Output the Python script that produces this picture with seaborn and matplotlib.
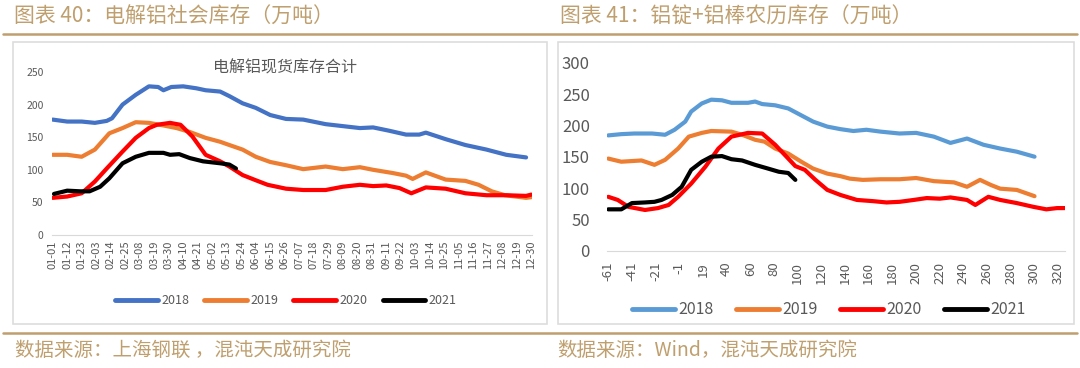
import matplotlib
matplotlib.use('Agg')
import matplotlib.pyplot as plt
import numpy as np
import pandas as pd
import seaborn as sns
from matplotlib.lines import Line2D
from matplotlib.patches import Rectangle

# ---- left chart: day of year (0 = 01-01), inventory in 10k t
years = ['2018', '2019', '2020', '2021']

l18_day = [0, 11, 22, 32, 41, 45, 53, 63, 73, 80, 84, 90, 99, 109, 116, 127, 134, 144, 154, 165,
           177, 190, 207, 220, 233, 243, 255, 268, 278, 283, 298, 313, 329, 344, 359]
l18_val = [177, 174, 174, 172, 175, 179, 200, 215, 228, 227, 222, 227, 228, 225, 222, 220, 213, 202, 195, 184,
           178, 177, 170, 167, 164, 165, 160, 154, 154, 157, 147, 138, 131, 123, 119]

l19_day = [0, 11, 22, 32, 43, 53, 63, 73, 84, 94, 104, 116, 127, 134, 144, 154, 165, 177, 190, 207,
           220, 233, 243, 258, 268, 273, 283, 298, 313, 323, 333, 343, 359, 363]
l19_val = [123, 123, 120, 131, 156, 164, 173, 172, 168, 164, 158, 149, 143, 138, 131, 120, 112, 107, 101, 105,
           101, 104, 100, 95, 91, 86, 96, 85, 83, 77, 67, 61, 57, 58]

l20_day = [0, 11, 22, 32, 41, 53, 63, 73, 79, 89, 97, 106, 116, 127, 134, 144, 154, 163, 177, 190,
           207, 220, 233, 243, 253, 263, 272, 283, 298, 313, 329, 344, 359, 363]
l20_val = [57, 59, 64, 82, 102, 128, 149, 164, 169, 172, 169, 151, 123, 113, 105, 92, 84, 77, 71, 69,
           69, 74, 77, 75, 76, 72, 64, 73, 71, 64, 61, 61, 60, 62]

l21_day = [1, 11, 21, 28, 36, 43, 53, 63, 73, 84, 89, 96, 104, 114, 127, 134, 139]
l21_val = [63, 68, 67, 67, 74, 87, 110, 120, 126, 126, 123, 124, 118, 113, 110, 108, 102]

l_ticks = ['01-01', '01-12', '01-23', '02-03', '02-14', '02-25', '03-08', '03-19', '03-30', '04-10',
           '04-21', '05-02', '05-13', '05-24', '06-04', '06-15', '06-26', '07-07', '07-18', '07-29',
           '08-09', '08-20', '08-31', '09-11', '09-22', '10-03', '10-14', '10-25', '11-05', '11-16',
           '11-27', '12-08', '12-19', '12-30']
l_colors = ['#4472C4', '#ED7D31', '#FF0000', '#000000']

# ---- right chart: position on lunar-calendar axis, inventory in 10k t
r18_pos = [0, 11, 22, 37, 48, 56, 65, 70, 79, 87, 96, 104, 118, 124, 130, 141, 152, 163, 173, 185,
           196, 207, 218, 230, 246, 260, 275, 289, 303, 317, 331, 345, 360]
r18_val = [184, 186, 187, 187, 185, 193, 206, 222, 235, 241, 240, 236, 236, 238, 234, 232, 227, 216, 206, 198,
           194, 191, 193, 190, 187, 188, 182, 172, 179, 169, 163, 158, 150]

r19_pos = [0, 11, 28, 39, 48, 59, 68, 79, 87, 104, 113, 124, 132, 141, 152, 163, 173, 185, 196, 204,
           215, 230, 246, 260, 275, 292, 303, 314, 323, 331, 345, 360]
r19_val = [147, 142, 144, 137, 145, 163, 182, 188, 191, 190, 185, 177, 174, 163, 155, 142, 131, 123, 119, 115,
           113, 114, 114, 116, 111, 109, 102, 113, 105, 99, 97, 87]

r20_pos = [0, 8, 17, 31, 42, 51, 59, 70, 82, 93, 104, 118, 130, 141, 149, 158, 166, 175, 185, 196,
           210, 224, 235, 246, 258, 269, 280, 289, 303, 310, 321, 331, 345, 359, 370, 379, 386]
r20_val = [86, 81, 70, 65, 68, 73, 86, 107, 134, 163, 182, 188, 187, 169, 153, 135, 129, 113, 97, 89,
           81, 79, 77, 78, 81, 84, 83, 85, 81, 73, 86, 81, 76, 70, 66, 68, 68]

r21_pos = [0, 11, 20, 31, 39, 45, 54, 62, 70, 79, 87, 96, 104, 113, 124, 135, 144, 152, 158]
r21_val = [66, 66, 76, 77, 78, 81, 89, 102, 129, 142, 150, 151, 146, 144, 137, 131, 126, 124, 113]

r_tick_pos = list(range(0, 381, 20))
r_ticks = ['-61', '-41', '-21', '-1', '19', '40', '60', '80', '100', '120', '140', '160', '180',
           '200', '220', '240', '260', '280', '300', '320']
r_colors = ['#5B9BD5', '#ED7D31', '#FF0000', '#000000']

gold = '#BF9F6E'
grey = '#595959'


def long_df(xs, ys):
    frames = [pd.DataFrame({'x': x, 'y': y, 'year': n}) for x, y, n in zip(xs, ys, years)]
    return pd.concat(frames, ignore_index=True)


sns.set_style('white')
plt.rcParams['font.family'] = ['Noto Sans CJK SC', 'DejaVu Sans']

fig = plt.figure(figsize=(10.8, 3.68), dpi=100)

# panel boxes and gold rules
fig.add_artist(Rectangle((13 / 1080, 1 - 324 / 368), 534 / 1080, 282 / 368, transform=fig.transFigure,
                         fill=False, ec='#DDDDDD', lw=1.2))
fig.add_artist(Rectangle((558 / 1080, 1 - 324 / 368), 516 / 1080, 282 / 368, transform=fig.transFigure,
                         fill=False, ec='#DDDDDD', lw=1.2))
fig.add_artist(Line2D([3 / 1080, 1077 / 1080], [1 - 34 / 368] * 2, transform=fig.transFigure, color=gold, lw=1.8))
fig.add_artist(Line2D([3 / 1080, 1077 / 1080], [1 - 333 / 368] * 2, transform=fig.transFigure, color=gold, lw=1.8))

fig.text(14 / 1080, 1 - 17 / 368, '图表 40：电解铝社会库存（万吨）', color=gold, fontsize=15, va='center')
fig.text(560 / 1080, 1 - 17 / 368, '图表 41：铝锭+铝棒农历库存（万吨）', color=gold, fontsize=15, va='center')
fig.text(15 / 1080, 1 - 350 / 368, '数据来源：上海钢联 ，混沌天成研究院', color=gold, fontsize=14, va='center')
fig.text(557 / 1080, 1 - 350 / 368, '数据来源：Wind，混沌天成研究院', color=gold, fontsize=14, va='center')

# ---- left
ax1 = fig.add_axes([52 / 1080, 1 - 235 / 368, 480 / 1080, 163 / 368])
df1 = long_df([l18_day, l19_day, l20_day, l21_day], [l18_val, l19_val, l20_val, l21_val])
sns.lineplot(data=df1, x='x', y='y', hue='year', palette=l_colors, linewidth=3, estimator=None,
             sort=False, legend=False, ax=ax1, solid_capstyle='round')
ax1.set_xlim(-0.5, 363.5)
ax1.set_ylim(0, 250)
ax1.set_xticks(np.arange(0, 364, 11))
ax1.set_xticklabels(l_ticks, rotation=90, fontsize=8, color=grey)
ax1.set_yticks(range(0, 251, 50))
ax1.tick_params(axis='y', labelsize=7.5, labelcolor=grey, length=0, pad=6)
ax1.tick_params(axis='x', length=0, pad=4)
ax1.set_xlabel('')
ax1.set_ylabel('')
for s in ['top', 'right', 'left']:
    ax1.spines[s].set_visible(False)
ax1.spines['bottom'].set_color('#D9D9D9')
fig.text(285 / 1080, 1 - 68 / 368, '电解铝现货库存合计', color=grey, fontsize=11.5, ha='center', va='center')
h1 = [Line2D([], [], color=c, lw=3.5) for c in l_colors]
fig.legend(h1, years, loc='center', bbox_to_anchor=(286 / 1080, 1 - 301 / 368), ncol=4, frameon=False,
           fontsize=9, handlelength=3.4, handletextpad=0.3, columnspacing=1.2, labelcolor=grey)

# ---- right
ax2 = fig.add_axes([606.5 / 1080, 1 - 250.7 / 368, 458.8 / 1080, 188 / 368])
df2 = long_df([r18_pos, r19_pos, r20_pos, r21_pos], [r18_val, r19_val, r20_val, r21_val])
sns.lineplot(data=df2, x='x', y='y', hue='year', palette=r_colors, linewidth=3, estimator=None,
             sort=False, legend=False, ax=ax2, solid_capstyle='round')
ax2.set_xlim(-1.5, 386)
ax2.set_ylim(0, 300)
ax2.set_xticks(r_tick_pos)
ax2.set_xticklabels(r_ticks, rotation=90, fontsize=9.5, color=grey)
ax2.set_yticks(range(0, 301, 50))
ax2.tick_params(axis='y', labelsize=12, labelcolor=grey, length=0, pad=12)
ax2.tick_params(axis='x', length=0, pad=8)
ax2.set_xlabel('')
ax2.set_ylabel('')
for s in ['top', 'right', 'left']:
    ax2.spines[s].set_visible(False)
ax2.spines['bottom'].set_color('#D9D9D9')
h2 = [Line2D([], [], color=c, lw=3.5) for c in r_colors]
fig.legend(h2, years, loc='center', bbox_to_anchor=(829 / 1080, 1 - 310 / 368), ncol=4, frameon=False,
           fontsize=11.5, handlelength=2.7, handletextpad=0.2, columnspacing=1.4, labelcolor=grey)

fig.savefig('out.png', dpi=100)
